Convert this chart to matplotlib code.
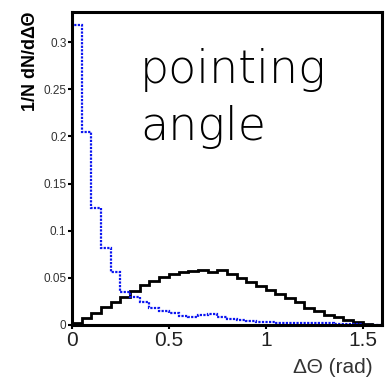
import numpy as np
import matplotlib
matplotlib.use("Agg")
import matplotlib.pyplot as plt

# bin contents, 0.05 rad bins from 0 to 1.6
signal = [0.318, 0.205, 0.124, 0.082, 0.056, 0.035, 0.030, 0.024,
          0.018, 0.015, 0.013, 0.0096, 0.008, 0.011, 0.012, 0.009,
          0.006, 0.0055, 0.004, 0.003, 0.003, 0.0025, 0.0025, 0.002,
          0.002, 0.002, 0.002, 0.0015, 0.0015, 0.001, 0.0005, 0.0]
background = [0.002, 0.0075, 0.013, 0.019, 0.0245, 0.030, 0.036, 0.042,
              0.047, 0.051, 0.054, 0.0557, 0.057, 0.058, 0.056, 0.0585,
              0.054, 0.050, 0.046, 0.0415, 0.037, 0.033, 0.029, 0.024,
              0.0185, 0.015, 0.011, 0.008, 0.0055, 0.0035, 0.0015, 0.0005]
edges = np.linspace(0.0, 1.6, len(signal) + 1)

xticks = [0, 0.5, 1, 1.5]
xticklabels = ["0", "0.5", "1", "1.5"]
yticks = [0, 0.05, 0.1, 0.15, 0.2, 0.25, 0.3]
yticklabels = ["0", "0.05", "0.1", "0.15", "0.2", "0.25", "0.3"]

plt.rcParams["font.family"] = ["Liberation Sans", "DejaVu Sans"]

fig = plt.figure(figsize=(3.87, 3.79), dpi=100)
ax = fig.add_axes([0.186, 0.1425, 0.801, 0.826])

ax.stairs(background, edges, color="black", linewidth=2.0)
ax.stairs(signal, edges, color="#0a14f0", linewidth=1.6,
          linestyle=(0, (1, 0.6)))

ax.set_xlim(0, 1.6)
ax.set_ylim(0, 0.332)
ax.set_xticks(xticks)
ax.set_xticklabels(xticklabels, fontsize=15, color="#222222")
ax.set_yticks(yticks)
ax.set_yticklabels(yticklabels, fontsize=8.5, color="#333333")
ax.tick_params(axis="both", direction="out", length=3, width=1.5,
               color="black", pad=1)

for s in ax.spines.values():
    s.set_linewidth(2.2)

ax.set_ylabel("1/N dN/d\u0394\u0398", fontsize=13, fontweight="bold",
              loc="top", labelpad=3)
fig.text(0.757, 0.03, "\u0394\u0398 (rad)", fontsize=15,
         color="#333333", ha="left", va="center")

ax.text(0.219, 0.773, "pointing", transform=ax.transAxes,
        fontsize=33, fontweight="light", family="DejaVu Sans",
        ha="left", va="baseline")
ax.text(0.219, 0.591, "angle", transform=ax.transAxes,
        fontsize=33, fontweight="light", family="DejaVu Sans",
        ha="left", va="baseline")

fig.savefig("out.png", dpi=100)
